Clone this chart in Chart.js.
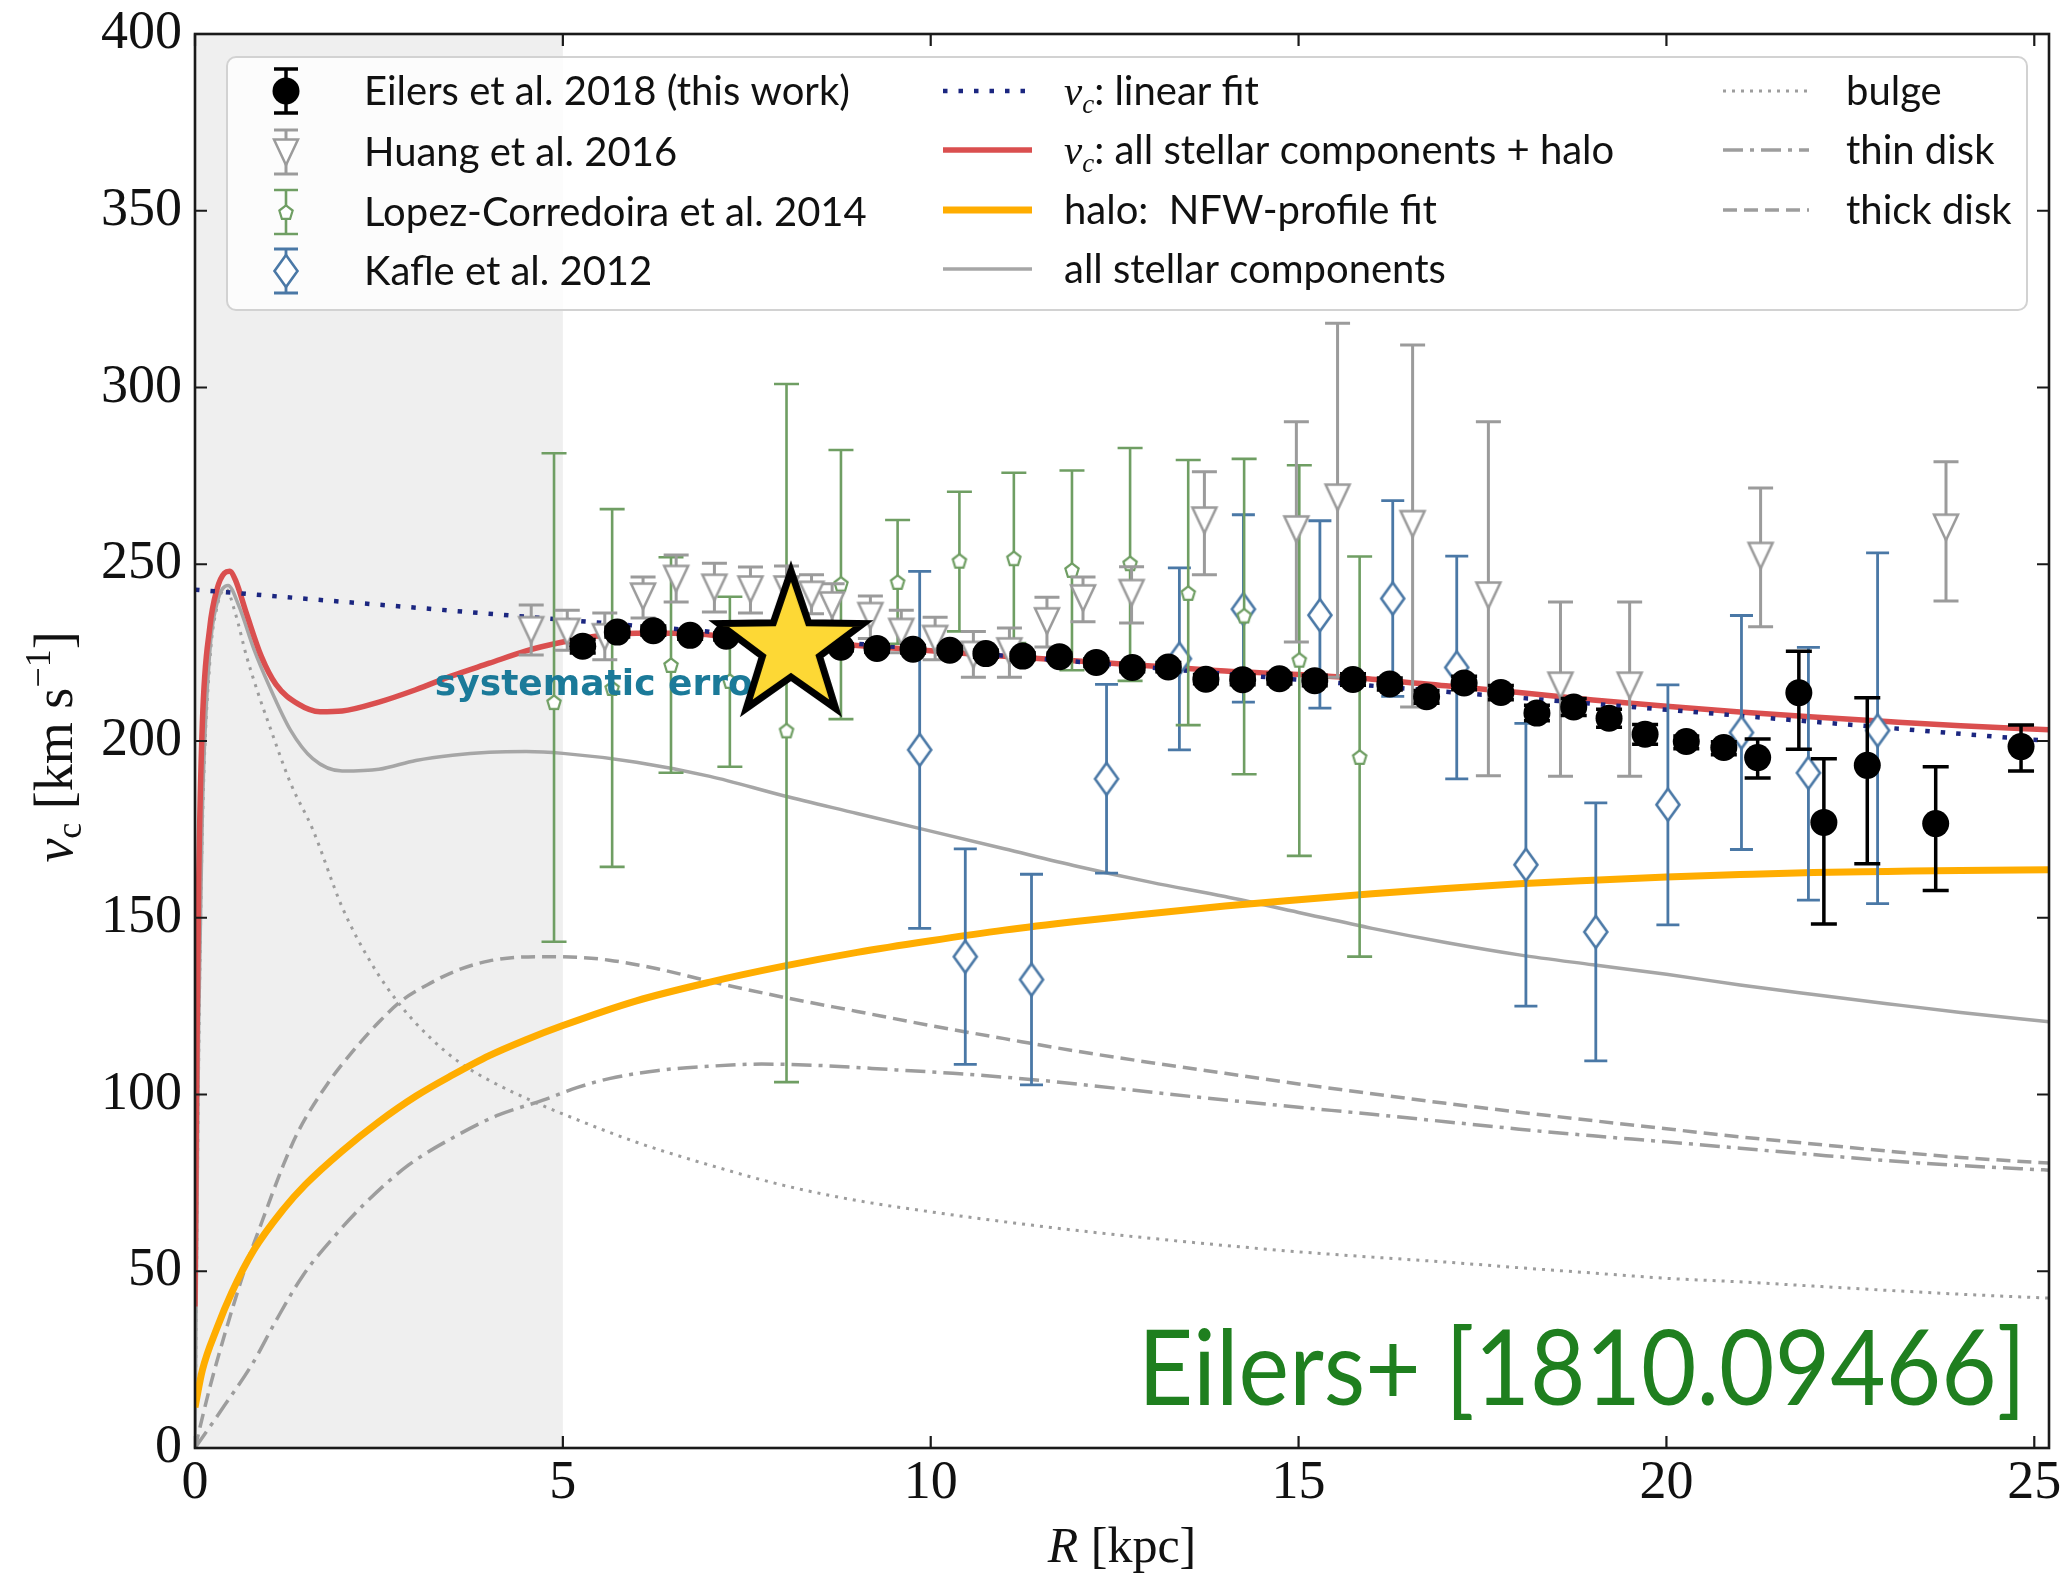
<!DOCTYPE html>
<html>
<head>
<meta charset="utf-8">
<title>Milky Way circular velocity curve</title>
<script src="https://cdn.jsdelivr.net/npm/chart.js@4.4.1/dist/chart.umd.min.js"></script>
<style>
html,body{margin:0;padding:0;background:#fff;}
#wrap{position:relative;width:2070px;height:1582px;background:#fff;}
canvas{display:block;}
</style>
</head>
<body>
<div id="wrap"><canvas id="chart" width="2070" height="1582"></canvas></div>
<script>
// ---------------- axis ticks ----------------
const xTicks = [0, 5, 10, 15, 20, 25];
const yTicks = [0, 50, 100, 150, 200, 250, 300, 350, 400];
const shadeRange = [0, 5];

// ---------------- Eilers et al. 2018 (this work) ----------------
const eilersR = [5.27,5.74,6.23,6.73,7.22,7.82,8.19,8.78,9.27,9.76,10.26,10.75,11.25,11.75,12.25,12.74,13.23,13.74,14.24,14.74,15.22,15.74,16.24,16.74,17.25,17.75,18.24,18.74,19.22,19.71,20.27,20.78,21.24,21.80,22.14,22.73,23.66,24.82];
const eilersV = [226.83,230.80,231.20,229.88,229.61,229.91,228.86,226.50,226.20,225.94,225.68,224.73,224.02,223.86,222.23,220.77,220.92,217.47,217.31,217.60,217.07,217.38,216.14,212.52,216.41,213.70,207.89,209.60,206.45,201.91,199.84,198.14,195.30,213.67,176.97,193.11,176.63,198.42];
const eilersLo = [224.9,229.4,229.9,228.8,228.6,228.5,227.9,225.5,225.2,224.9,224.7,223.7,223.0,222.8,221.1,219.6,219.6,216.2,215.9,216.1,215.6,215.8,214.4,210.7,214.5,211.7,205.7,207.2,203.9,199.1,197.8,196.1,189.5,197.7,148.2,165.3,157.7,191.5];
const eilersHi = [228.7,232.2,232.5,231.0,230.6,231.3,229.9,227.5,227.2,227.0,226.7,225.7,225.0,224.9,223.3,222.0,222.2,218.8,218.7,219.1,218.6,219.0,217.8,214.3,218.3,215.7,210.1,212.0,209.0,204.7,201.4,199.8,200.6,225.4,195.0,212.2,192.7,204.5];

// ---------------- Huang et al. 2016 ----------------
const huangR = [4.57,5.06,5.57,6.09,6.54,7.06,7.55,8.04,8.38,8.66,9.18,9.60,10.06,10.58,11.07,11.58,12.07,12.73,13.72,14.97,15.53,16.55,17.58,18.56,19.50,21.28,23.80];
const huangV = [231.5,231.0,229.5,241.0,246.0,243.5,243.0,243.0,241.5,238.5,235.5,231.0,229.0,224.5,225.5,234.0,240.5,242.0,262.5,260.0,269.0,261.5,241.3,215.8,215.8,252.5,260.5];
const huangHi = [238.5,237.0,236.2,246.4,252.6,250.3,249.2,249.5,247.0,244.5,241.0,237.0,235.0,231.0,232.0,240.7,246.4,249.3,276.2,290.3,318.2,312.0,290.3,239.3,239.3,271.6,279.0];
const huangLo = [224.3,225.7,223.0,234.8,239.3,236.5,236.2,236.5,236.0,232.5,229.0,225.0,223.0,218.0,218.0,226.6,233.7,233.4,247.0,228.0,218.0,209.6,190.2,190.0,190.0,232.3,239.6];

// ---------------- Lopez-Corredoira et al. 2014 ----------------
const lopezR = [4.88,5.67,6.47,7.27,8.04,8.78,9.55,10.39,11.13,11.92,12.71,13.50,14.26,15.01,15.83];
const lopezV = [211.0,215.0,221.5,217.0,203.0,244.5,245.0,251.0,251.7,248.4,250.3,241.9,235.5,223.0,195.5];
const lopezHi = [281.4,265.6,252.0,240.8,301.0,282.3,262.5,270.5,275.9,276.5,282.9,279.5,279.8,278.0,252.2];
const lopezLo = [143.2,164.4,191.0,192.7,103.5,206.2,227.5,231.0,227.7,220.0,217.0,204.5,190.6,167.5,139.0];

// ---------------- Kafle et al. 2012 ----------------
const kafleR = [9.85,10.47,11.37,12.39,13.38,14.25,15.29,16.28,17.15,18.09,19.04,20.02,21.02,21.93,22.87];
const kafleV = [197.5,139.0,132.5,189.3,223.3,237.3,235.6,240.3,220.8,165.0,146.0,182.0,202.4,191.0,203.0];
const kafleHi = [248.0,169.5,162.3,216.0,249.0,264.0,262.3,268.0,252.3,205.0,182.5,215.9,235.5,226.5,253.2];
const kafleLo = [147.0,108.5,102.7,162.6,197.5,211.0,209.3,212.6,189.3,125.0,109.5,148.0,169.3,155.0,154.0];

// ---------------- model curves ----------------
const fitR = [0, 25.2];
const fitV = [242.8, 200.0];

const redR = [0,0.02,0.05,0.1,0.2,0.3,0.4,0.47,0.55,0.7,0.9,1.1,1.4,1.7,2.0,2.5,3.0,3.5,4.0,4.5,5.0,5.5,6.0,6.5,7,8,9,10,11,12,13,14,15,16,17,18,19,20,21,22,23,24,25.2];
const redV = [40,100,160,205,232,243,247.5,248,245.5,236,224,216,210.5,208.3,208.5,211,214.5,218.5,222,225.5,228,229.8,230.5,230.5,230,228.6,227,225.5,224,222.6,221.2,219.8,218.8,217.5,215.6,213.7,211.6,209.8,208.2,206.8,205.5,204.3,203.2];

const haloR = [0,0.1,0.3,0.5,0.8,1.2,1.5,2,2.5,3,3.5,4,4.5,5,6,7,8,9,10,11,12,13,14,15,16,17,18,19,20,21,22,23,24,25.2];
const haloV = [11.5,22,34,44,56,67.5,74.5,84,92.3,99.5,105.5,111,115.5,119.5,126.5,131.8,136.3,140.2,143.5,146.5,149,151.2,153.3,155.1,156.8,158.3,159.6,160.6,161.5,162.2,162.8,163.1,163.4,163.6];

const starsR = [0,0.05,0.1,0.2,0.3,0.45,0.6,0.8,1.0,1.3,1.6,2.0,2.5,3.0,3.5,4.0,4.5,5,6,7,8,9,10,11,12,13,14,15,16,17,18,19,20,21,22,23,24,25.2];
const starsV = [0,120,180,225,239,244,238,226,216,203,195,191.5,192,194.5,196,196.8,197,196.5,194,190,184.5,179.5,174.5,169.5,164.5,160,156,151.5,147,143,139.5,136.7,134,131,128.3,125.7,123.2,120.6];

const bulgeR = [0,0.05,0.1,0.2,0.3,0.42,0.55,0.7,0.85,1.0,1.3,1.6,2.0,2.4,2.8,3.2,3.6,4.0,4.6,5,6,7,8,9,10,11,12,13,14,15,16,17,18,19,20,21,22,23,24,25.2];
const bulgeV = [0,110,175,222,238,243,236,224,214,205,188,175,153,137,125,116,109,104,98,94.5,86.5,80,74.3,70,66.8,64,61.5,59.3,57.3,55.5,54,52.6,51,49.5,48,47,45.8,44.6,43.5,42.4];

const thinR = [0,0.4,0.78,1.1,1.47,1.9,2.3,2.9,3.55,4.1,4.73,5.2,5.63,6.3,7,7.7,8.5,9.5,10.3,11.5,12.5,13.65,15,16,17,18,19,20,21,22,23,24,25.2];
const thinV = [0,12,23.8,36,48.9,60,69,80,88.3,94,98.4,102,104.5,106.8,108,108.6,108.2,107,106,104,101.8,99.2,96.4,94.4,92.3,90.2,88.3,86.6,84.8,83,81.3,79.9,78.6];

const thickR = [0,0.2,0.43,0.7,0.91,1.2,1.4,1.8,2.16,2.5,2.8,3.2,3.55,4.0,4.66,5.2,5.63,6.3,7,8,9,10,11,12,13,14,15,16,17,18,19,20,21,22,23,24,25.2];
const thickV = [0,17,34,52,64,80,89.4,103,112.6,120.5,126.4,131.5,135,137.8,139,138.8,138,135.5,132,127.5,123.5,119.5,115.8,112.2,109,106,103,100.2,97.5,95,92.6,90.3,88,86,84,82.2,80.6];

// Sun position marker
const sunR = [8.1];
const sunV = [226.6];

// ---------------- styling ----------------
const COL = {
  huang: '#9b9b9b', lopez: '#6f9e63', kafle: '#4a78a6',
  red: '#da4f4f', orange: '#ffad00', stellar: '#a6a6a6', comp: '#9d9d9d', fit: '#1b2680'
};
const pts = (xs, ys) => xs.map((x, i) => ({x: x, y: ys[i]}));

function mk(w, h, fn) { const c = document.createElement('canvas'); c.width = w; c.height = h; fn(c.getContext('2d'), w, h); return c; }
const triMarker = mk(30, 32, (g, w, h) => {
  g.beginPath(); g.moveTo(3, 3.5); g.lineTo(w - 3, 3.5); g.lineTo(w / 2, h - 3); g.closePath();
  g.fillStyle = '#fff'; g.fill(); g.lineWidth = 2.5; g.strokeStyle = COL.huang; g.stroke();
});
const pentMarker = mk(22, 22, (g, w, h) => {
  g.beginPath();
  for (let k = 0; k < 5; k++) { const a = -Math.PI / 2 + k * 2 * Math.PI / 5; const px = w / 2 + 7 * Math.cos(a), py = h / 2 + 0.8 + 7.4 * Math.sin(a); k ? g.lineTo(px, py) : g.moveTo(px, py); }
  g.closePath(); g.fillStyle = '#fff'; g.fill(); g.lineWidth = 2.2; g.strokeStyle = COL.lopez; g.stroke();
});
const diaMarker = mk(30, 38, (g, w, h) => {
  g.beginPath(); g.moveTo(w / 2, 3); g.lineTo(w - 3.5, h / 2); g.lineTo(w / 2, h - 3); g.lineTo(3.5, h / 2); g.closePath();
  g.fillStyle = '#fff'; g.fill(); g.lineWidth = 2.6; g.strokeStyle = COL.kafle; g.stroke();
});
const starMarker = mk(200, 200, (g, w, h) => {
  const R = 76, r = 30;
  g.beginPath();
  for (let k = 0; k < 10; k++) { const a = -Math.PI / 2 + k * Math.PI / 5; const rr = k % 2 ? r : R; const px = w / 2 + rr * Math.cos(a), py = h / 2 + rr * Math.sin(a); k ? g.lineTo(px, py) : g.moveTo(px, py); }
  g.closePath(); g.fillStyle = '#fdd835'; g.fill(); g.lineJoin = 'miter'; g.miterLimit = 10; g.lineWidth = 7; g.strokeStyle = '#000'; g.stroke();
});

// ---------------- plugins ----------------
const errorBars = {
  id: 'errorBars',
  beforeDatasetDraw(chart, args) {
    const ds = chart.data.datasets[args.index];
    const ctx = chart.ctx, a = chart.chartArea, xs = chart.scales.x, ys = chart.scales.y;
    if (ds.isStar) {
      ctx.save();
      ctx.font = 'bold 36px "DejaVu Sans"';
      ctx.fillStyle = '#1b7a99';
      ctx.textBaseline = 'alphabetic';
      ctx.fillText('systematic error', xs.getPixelForValue(3.26), ys.getPixelForValue(213.0));
      ctx.restore();
      return;
    }
    if (!ds.errHi) return;
    ctx.save();
    ctx.beginPath(); ctx.rect(a.left, a.top, a.right - a.left, a.bottom - a.top); ctx.clip();
    ctx.strokeStyle = ds.errColor; ctx.lineWidth = ds.errWidth; ctx.lineCap = 'butt';
    const half = ds.errCap / 2;
    ds.data.forEach((p, i) => {
      const px = xs.getPixelForValue(p.x);
      const yh = ys.getPixelForValue(ds.errHi[i]);
      const yl = ys.getPixelForValue(ds.errLo[i]);
      ctx.beginPath();
      ctx.moveTo(px, yh); ctx.lineTo(px, yl);
      ctx.moveTo(px - half, yh); ctx.lineTo(px + half, yh);
      ctx.moveTo(px - half, yl); ctx.lineTo(px + half, yl);
      ctx.stroke();
    });
    ctx.restore();
  }
};

const shade = {
  id: 'shade',
  beforeDatasetsDraw(chart) {
    const ctx = chart.ctx, a = chart.chartArea, xs = chart.scales.x;
    ctx.save();
    ctx.fillStyle = '#efefef';
    const x0 = xs.getPixelForValue(shadeRange[0]), x1 = xs.getPixelForValue(shadeRange[1]);
    ctx.fillRect(x0, a.top, x1 - x0, a.bottom - a.top);
    ctx.restore();
  }
};

function drawRuns(ctx, parts, x, y, align) {
  let total = 0;
  parts.forEach(p => { ctx.font = p.font; total += ctx.measureText(p.t).width + (p.gap || 0); });
  let cx = align === 'center' ? x - total / 2 : x;
  parts.forEach(p => { ctx.font = p.font; ctx.fillText(p.t, cx, y + (p.dy || 0)); cx += ctx.measureText(p.t).width + (p.gap || 0); });
  return total;
}

function errGlyph(ctx, x, c, color, lw, cap, halfLen) {
  ctx.save(); ctx.strokeStyle = color; ctx.lineWidth = lw;
  ctx.beginPath();
  ctx.moveTo(x, c - halfLen); ctx.lineTo(x, c + halfLen);
  ctx.moveTo(x - cap / 2, c - halfLen); ctx.lineTo(x + cap / 2, c - halfLen);
  ctx.moveTo(x - cap / 2, c + halfLen); ctx.lineTo(x + cap / 2, c + halfLen);
  ctx.stroke(); ctx.restore();
}

function sample(ctx, x0, x1, y, color, lw, dash) {
  ctx.save(); ctx.strokeStyle = color; ctx.lineWidth = lw; ctx.setLineDash(dash || []);
  ctx.beginPath(); ctx.moveTo(x0, y); ctx.lineTo(x1, y); ctx.stroke(); ctx.restore();
}

const decor = {
  id: 'decor',
  afterDatasetsDraw(chart) {
    const ctx = chart.ctx, a = chart.chartArea, xs = chart.scales.x, ys = chart.scales.y;
    // frame + inward ticks
    ctx.save();
    ctx.strokeStyle = '#1a1a1a'; ctx.lineWidth = 2.6;
    ctx.strokeRect(a.left, a.top, a.right - a.left, a.bottom - a.top);
    ctx.lineWidth = 2.2;
    const tl = 12;
    ctx.beginPath();
    xTicks.forEach(v => { const px = xs.getPixelForValue(v); ctx.moveTo(px, a.bottom); ctx.lineTo(px, a.bottom - tl); ctx.moveTo(px, a.top); ctx.lineTo(px, a.top + tl); });
    yTicks.forEach(v => { const py = ys.getPixelForValue(v); ctx.moveTo(a.left, py); ctx.lineTo(a.left + tl, py); ctx.moveTo(a.right, py); ctx.lineTo(a.right - tl, py); });
    ctx.stroke();
    ctx.restore();

    // legend box
    ctx.save();
    const L = {x0: a.left + 32, y0: a.top + 23, x1: a.right - 22, y1: a.top + 276};
    ctx.beginPath();
    ctx.roundRect(L.x0, L.y0, L.x1 - L.x0, L.y1 - L.y0, 9);
    ctx.fillStyle = 'rgba(255,255,255,0.8)'; ctx.fill();
    ctx.lineWidth = 2; ctx.strokeStyle = '#d2d2d2'; ctx.stroke();

    const sans = '40px Lato', ital = 'italic 41px "Liberation Serif"', sub = 'italic 27px "Liberation Serif"';
    ctx.fillStyle = '#111'; ctx.textBaseline = 'alphabetic';
    const r1 = [a.top + 57, a.top + 118, a.top + 178, a.top + 237];
    const mx = 286, tx = 364;
    // column 1
    errGlyph(ctx, mx, r1[0], '#000', 3.5, 24, 22);
    ctx.beginPath(); ctx.fillStyle = '#000'; ctx.arc(mx, r1[0], 13.5, 0, Math.PI * 2); ctx.fill();
    errGlyph(ctx, mx, r1[1], COL.huang, 3, 24, 22);
    ctx.drawImage(triMarker, mx - triMarker.width / 2, r1[1] - triMarker.height / 2);
    errGlyph(ctx, mx, r1[2], COL.lopez, 2.6, 24, 22);
    ctx.drawImage(pentMarker, mx - pentMarker.width / 2, r1[2] - pentMarker.height / 2);
    errGlyph(ctx, mx, r1[3], COL.kafle, 2.8, 24, 22);
    ctx.drawImage(diaMarker, mx - diaMarker.width / 2, r1[3] - diaMarker.height / 2);
    ctx.fillStyle = '#111';
    const col1 = ['Eilers et al. 2018 (this work)', 'Huang et al. 2016', 'Lopez-Corredoira et al. 2014', 'Kafle et al. 2012'];
    col1.forEach((t, i) => { ctx.font = sans; ctx.fillText(t, tx, r1[i] + 14); });

    // column 2
    const r2 = [a.top + 57, a.top + 116, a.top + 176, a.top + 235];
    const s0 = 943, s1 = 1032, t2 = 1064;
    sample(ctx, s0, s1, r2[0], COL.fit, 4.5, [4.5, 11]);
    sample(ctx, s0, s1, r2[1], COL.red, 5.5);
    sample(ctx, s0, s1, r2[2], COL.orange, 7);
    sample(ctx, s0, s1, r2[3], COL.stellar, 3.5);
    ctx.fillStyle = '#111';
    drawRuns(ctx, [{t: 'v', font: ital}, {t: 'c', font: sub, dy: 8}, {t: ': linear fit', font: sans}], t2, r2[0] + 14, 'left');
    drawRuns(ctx, [{t: 'v', font: ital}, {t: 'c', font: sub, dy: 8}, {t: ': all stellar components + halo', font: sans}], t2, r2[1] + 14, 'left');
    ctx.font = sans;
    ctx.fillText('halo:  NFW-profile fit', t2, r2[2] + 14);
    ctx.fillText('all stellar components', t2, r2[3] + 14);

    // column 3
    const u0 = 1723, u1 = 1809, t3 = 1846;
    sample(ctx, u0, u1, r2[0], COL.comp, 3, [3, 6]);
    sample(ctx, u0, u1, r2[1], COL.comp, 3.5, [20, 7, 4, 7]);
    sample(ctx, u0, u1, r2[2], COL.comp, 3.5, [14, 7]);
    ctx.fillStyle = '#111'; ctx.font = sans;
    ctx.fillText('bulge', t3, r2[0] + 14);
    ctx.fillText('thin disk', t3, r2[1] + 14);
    ctx.fillText('thick disk', t3, r2[2] + 14);
    ctx.restore();

    // reference label
    ctx.save();
    const lbl = 'Eilers+ [1810.09466]';
    ctx.font = '104px Lato';
    const w = ctx.measureText(lbl).width;
    const targetW = 888;
    ctx.translate(a.right - 23 - targetW, a.bottom - 43);
    ctx.scale(targetW / w, 1);
    ctx.fillStyle = '#1f7f1f';
    ctx.textBaseline = 'alphabetic';
    ctx.fillText(lbl, 0, 0);
    ctx.restore();
  },
  afterDraw(chart) {
    const ctx = chart.ctx, a = chart.chartArea;
    ctx.save();
    ctx.fillStyle = '#111'; ctx.textBaseline = 'alphabetic';
    // x title
    drawRuns(ctx, [{t: 'R', font: 'italic 50px "Liberation Serif"'}, {t: ' [kpc]', font: '50px "Liberation Serif"'}], (a.left + a.right) / 2, 1562, 'center');
    // y title
    ctx.translate(72, (a.top + a.bottom) / 2 + 6);
    ctx.rotate(-Math.PI / 2);
    drawRuns(ctx, [
      {t: 'v', font: 'italic 54px "Liberation Serif"'},
      {t: 'c', font: '36px "Liberation Serif"', dy: 9},
      {t: ' [km', font: '54px "Liberation Serif"'},
      {t: ' s', font: '54px "Liberation Serif"'},
      {t: '\u22121', font: '36px "Liberation Serif"', dy: -22},
      {t: ']', font: '54px "Liberation Serif"'}
    ], 0, 0, 'center');
    ctx.restore();
  }
};

// ---------------- chart ----------------
const lineDs = (label, xs, ys, color, width, dash, order) => ({
  label, data: pts(xs, ys), showLine: true, pointRadius: 0, borderColor: color, borderWidth: width,
  borderDash: dash || [], fill: false, cubicInterpolationMode: 'monotone', order
});

const tickFont = {family: '"Liberation Serif"', size: 54};

new Chart(document.getElementById('chart'), {
  type: 'scatter',
  data: {
    datasets: [
      {label: 'Sun', data: pts(sunR, sunV), pointStyle: starMarker, pointRadius: 10, isStar: true, order: 0},
      {label: 'Eilers et al. 2018 (this work)', data: pts(eilersR, eilersV), pointStyle: 'circle', pointRadius: 13.5,
        backgroundColor: '#000', borderWidth: 0, errLo: eilersLo, errHi: eilersHi, errColor: '#000', errWidth: 3.5, errCap: 26, order: 1},
      {label: 'Huang et al. 2016', data: pts(huangR, huangV), pointStyle: triMarker, pointRadius: 10,
        errLo: huangLo, errHi: huangHi, errColor: COL.huang, errWidth: 3, errCap: 25, order: 2},
      {label: 'Lopez-Corredoira et al. 2014', data: pts(lopezR, lopezV), pointStyle: pentMarker, pointRadius: 8,
        errLo: lopezLo, errHi: lopezHi, errColor: COL.lopez, errWidth: 2.6, errCap: 25, order: 3},
      {label: 'Kafle et al. 2012', data: pts(kafleR, kafleV), pointStyle: diaMarker, pointRadius: 10,
        errLo: kafleLo, errHi: kafleHi, errColor: COL.kafle, errWidth: 2.8, errCap: 23, order: 4},
      lineDs('linear fit', fitR, fitV, COL.fit, 4.5, [4.5, 11], 5),
      lineDs('all stellar components + halo', redR, redV, COL.red, 5.5, null, 6),
      lineDs('halo: NFW-profile fit', haloR, haloV, COL.orange, 7, null, 7),
      lineDs('all stellar components', starsR, starsV, COL.stellar, 3.5, null, 8),
      lineDs('bulge', bulgeR, bulgeV, COL.comp, 3, [3, 6], 9),
      lineDs('thin disk', thinR, thinV, COL.comp, 3.5, [20, 7, 4, 7], 10),
      lineDs('thick disk', thickR, thickV, COL.comp, 3.5, [14, 7], 11)
    ]
  },
  options: {
    responsive: false,
    devicePixelRatio: 1,
    animation: false,
    events: [],
    layout: {padding: {left: 0, right: 21, top: 34, bottom: 0}},
    plugins: {legend: {display: false}, tooltip: {enabled: false}},
    scales: {
      x: {
        type: 'linear', min: 0, max: 25.2,
        grid: {display: false, drawTicks: false},
        border: {display: false},
        ticks: {font: tickFont, color: '#111', padding: 3, maxRotation: 0, minRotation: 0, autoSkip: false,
          callback: v => String(v)},
        afterBuildTicks: s => { s.ticks = xTicks.map(v => ({value: v})); },
        afterFit: s => { s.height = 134; s.paddingLeft = 0; s.paddingRight = 0; }
      },
      y: {
        type: 'linear', min: 0, max: 400,
        grid: {display: false, drawTicks: false},
        border: {display: false},
        ticks: {font: tickFont, color: '#111', padding: 13, autoSkip: false, callback: v => String(v)},
        afterBuildTicks: s => { s.ticks = yTicks.map(v => ({value: v})); },
        afterFit: s => { s.width = 195; s.paddingTop = 0; s.paddingBottom = 0; }
      }
    }
  },
  plugins: [shade, errorBars, decor]
});
</script>
</body>
</html>
